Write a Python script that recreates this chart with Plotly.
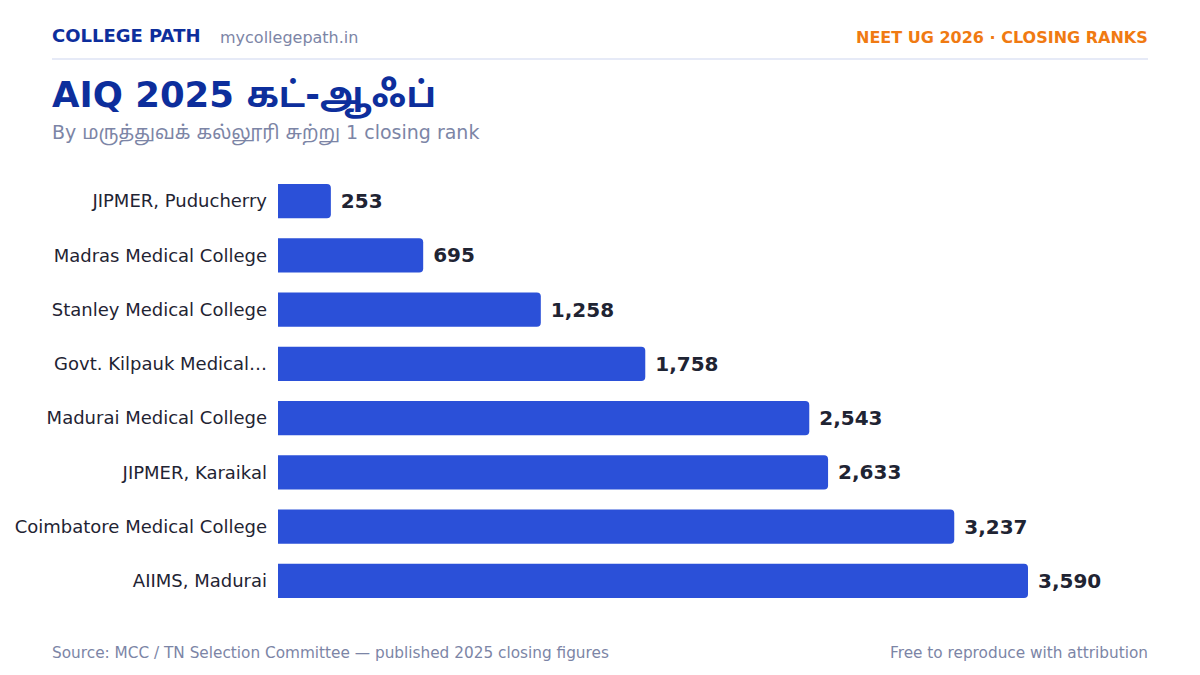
import plotly.graph_objects as go

colleges = [
    "JIPMER, Puducherry",
    "Madras Medical College",
    "Stanley Medical College",
    "Govt. Kilpauk Medical…",
    "Madurai Medical College",
    "JIPMER, Karaikal",
    "Coimbatore Medical College",
    "AIIMS, Madurai",
]
closing_ranks = [253, 695, 1258, 1758, 2543, 2633, 3237, 3590]

NAVY = "#0D2E9C"
GREY = "#7C85A6"
INK = "#1F2433"
BAR = "#2B50D8"
FONT = "DejaVu Sans, Noto Sans Tamil, Noto Sans, sans-serif"

# plot area in pixels: x 278..1148, y 174..608
PW, PH = 870, 434


def px_x(x):
    return (x - 278) / PW


def px_y(y):
    return (608 - y) / PH


fig = go.Figure(
    go.Bar(
        x=closing_ranks,
        y=colleges,
        orientation="h",
        marker=dict(color=BAR, cornerradius=4, line=dict(width=0)),
        texttemplate="\u00a0%{x:,}",
        textposition="outside",
        textfont=dict(size=20, color=INK, family=FONT, weight="bold"),
        cliponaxis=False,
        hoverinfo="skip",
    )
)

fig.update_layout(
    width=1200,
    height=675,
    margin=dict(l=278, r=52, t=174, b=67),
    paper_bgcolor="white",
    plot_bgcolor="white",
    font=dict(family=FONT, color=INK),
    bargap=0.37,
    showlegend=False,
)
fig.update_xaxes(range=[0, max(closing_ranks) * 1.16], visible=False)
fig.update_yaxes(
    autorange="reversed",
    showgrid=False,
    showline=False,
    ticks="",
    ticklabelstandoff=10,
    tickfont=dict(size=18, color=INK),
)

# header, title, footer (annotations add ~2px padding, hence 50/1150)
fig.add_annotation(
    text="<b>COLLEGE PATH</b>", xref="paper", yref="paper",
    x=px_x(50), y=px_y(36), xanchor="left", yanchor="middle",
    showarrow=False, font=dict(size=18, color=NAVY),
)
fig.add_annotation(
    text="mycollegepath.in", xref="paper", yref="paper",
    x=px_x(218), y=px_y(37), xanchor="left", yanchor="middle",
    showarrow=False, font=dict(size=16, color=GREY),
)
fig.add_annotation(
    text="<b>NEET UG 2026 · CLOSING RANKS</b>", xref="paper", yref="paper",
    x=px_x(1150), y=px_y(37), xanchor="right", yanchor="middle",
    showarrow=False, font=dict(size=16, color="#F07A12"),
)
fig.add_shape(
    type="line", xref="paper", yref="paper",
    x0=px_x(52), x1=1.0, y0=px_y(59), y1=px_y(59),
    line=dict(color="#E6EAF7", width=2),
)
fig.add_annotation(
    text="<b>AIQ 2025 கட்-ஆஃப்</b>", xref="paper", yref="paper",
    x=px_x(50), y=px_y(96), xanchor="left", yanchor="middle",
    showarrow=False, font=dict(size=35.5, color=NAVY),
)
fig.add_annotation(
    text="By மருத்துவக் கல்லூரி சுற்று 1 closing rank", xref="paper", yref="paper",
    x=px_x(50), y=px_y(133), xanchor="left", yanchor="middle",
    showarrow=False, font=dict(size=19, color=GREY),
)
fig.add_annotation(
    text="Source: MCC / TN Selection Committee — published 2025 closing figures",
    xref="paper", yref="paper",
    x=px_x(50), y=px_y(653), xanchor="left", yanchor="middle",
    showarrow=False, font=dict(size=15.3, color=GREY),
)
fig.add_annotation(
    text="Free to reproduce with attribution", xref="paper", yref="paper",
    x=px_x(1150), y=px_y(653), xanchor="right", yanchor="middle",
    showarrow=False, font=dict(size=15.3, color=GREY),
)

fig.write_html(
    "out.html",
    config={"displayModeBar": False},
    post_script="document.body.style.margin='0';",
)
